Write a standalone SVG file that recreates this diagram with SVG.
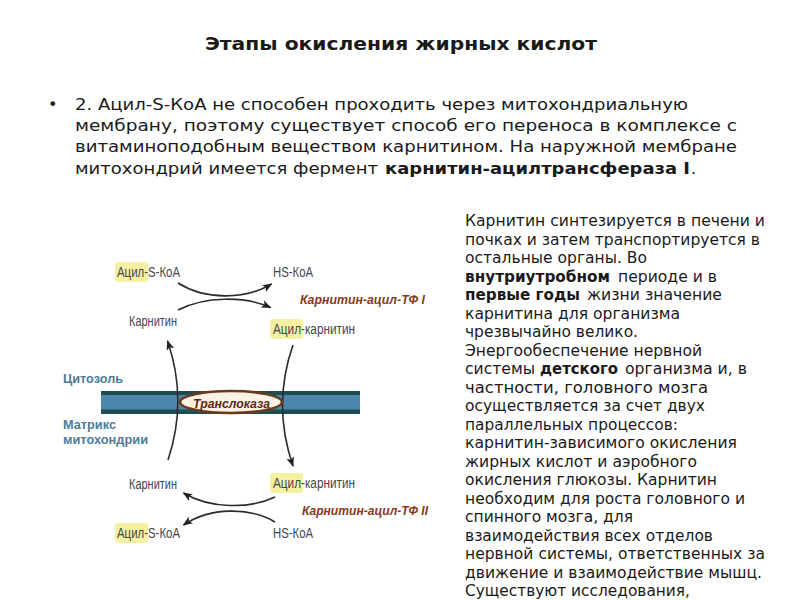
<svg xmlns="http://www.w3.org/2000/svg" width="800" height="600" viewBox="0 0 800 600">
<defs>
<marker id="ah" viewBox="0 0 10 8" refX="9" refY="4" markerWidth="10" markerHeight="8" markerUnits="userSpaceOnUse" orient="auto">
<path d="M0,0 L10,4 L0,8 L2.5,4 z" fill="#222"/>
</marker>
</defs>
<style>
.t{font-family:"DejaVu Sans","Liberation Sans",sans-serif;fill:#1a1a1a}
.b{font-weight:bold}
.p{font-size:16px}
.r{font-size:15px}
.lab{font-family:"Liberation Sans","DejaVu Sans",sans-serif;font-size:14px;fill:#45454f}
.enz{font-family:"Liberation Sans","DejaVu Sans",sans-serif;font-size:13px;font-weight:bold;font-style:italic;fill:#87391a}
.reg{font-family:"Liberation Sans","DejaVu Sans",sans-serif;font-size:13px;font-weight:bold;fill:#4f7c98}
.hl{fill:#f6f1a2}
.con{fill:none;stroke:#2b2b2b;stroke-width:1.6;marker-end:url(#ah)}
</style>
<rect width="800" height="600" fill="#ffffff"/>

<g id="title">
<text class="t b" x="205" y="50" font-size="17" textLength="392" lengthAdjust="spacingAndGlyphs">Этапы окисления жирных кислот</text>
</g>

<g id="bullet-text">
<text class="t p" x="48" y="110">•</text>
<text class="t p" x="75" y="110" textLength="613" lengthAdjust="spacingAndGlyphs">2. Ацил-S-КоА не способен проходить через митохондриальную</text>
<text class="t p" x="75" y="131" textLength="662" lengthAdjust="spacingAndGlyphs">мембрану, поэтому существует способ его переноса в комплексе с</text>
<text class="t p" x="75" y="152" textLength="662" lengthAdjust="spacingAndGlyphs">витаминоподобным веществом карнитином. На наружной мембране</text>
<text class="t p" x="75" y="174" textLength="303" lengthAdjust="spacingAndGlyphs">митохондрий имеется фермент</text>
<text class="t p b" x="385" y="174" textLength="305" lengthAdjust="spacingAndGlyphs">карнитин-ацилтрансфераза I</text>
<text class="t p" x="691" y="174">.</text>
</g>

<g id="side-text">
<text class="t r" x="465" y="226" textLength="300" lengthAdjust="spacingAndGlyphs">Карнитин синтезируется в печени и</text>
<text class="t r" x="465" y="244.5" textLength="295" lengthAdjust="spacingAndGlyphs">почках и затем транспортируется в</text>
<text class="t r" x="465" y="263" textLength="182" lengthAdjust="spacingAndGlyphs">остальные органы. Во</text>
<text class="t r b" x="465" y="281.5" textLength="145" lengthAdjust="spacingAndGlyphs">внутриутробном</text>
<text class="t r" x="618" y="281.5" textLength="99" lengthAdjust="spacingAndGlyphs">периоде и в</text>
<text class="t r b" x="465" y="300" textLength="115" lengthAdjust="spacingAndGlyphs">первые годы</text>
<text class="t r" x="587" y="300" textLength="135" lengthAdjust="spacingAndGlyphs">жизни значение</text>
<text class="t r" x="465" y="318.5" textLength="215" lengthAdjust="spacingAndGlyphs">карнитина для организма</text>
<text class="t r" x="465" y="337" textLength="173" lengthAdjust="spacingAndGlyphs">чрезвычайно велико.</text>
<text class="t r" x="465" y="355.5" textLength="237" lengthAdjust="spacingAndGlyphs">Энергообеспечение нервной</text>
<text class="t r" x="465" y="374" textLength="70" lengthAdjust="spacingAndGlyphs">системы</text>
<text class="t r b" x="540" y="374" textLength="78" lengthAdjust="spacingAndGlyphs">детского</text>
<text class="t r" x="625" y="374" textLength="122" lengthAdjust="spacingAndGlyphs">организма и, в</text>
<text class="t r" x="465" y="392.5" textLength="243" lengthAdjust="spacingAndGlyphs">частности, головного мозга</text>
<text class="t r" x="465" y="411" textLength="240" lengthAdjust="spacingAndGlyphs">осуществляется за счет двух</text>
<text class="t r" x="465" y="429.5" textLength="213" lengthAdjust="spacingAndGlyphs">параллельных процессов:</text>
<text class="t r" x="465" y="448" textLength="272" lengthAdjust="spacingAndGlyphs">карнитин-зависимого окисления</text>
<text class="t r" x="465" y="466.5" textLength="232" lengthAdjust="spacingAndGlyphs">жирных кислот и аэробного</text>
<text class="t r" x="465" y="485" textLength="252" lengthAdjust="spacingAndGlyphs">окисления глюкозы. Карнитин</text>
<text class="t r" x="465" y="503.5" textLength="280" lengthAdjust="spacingAndGlyphs">необходим для роста головного и</text>
<text class="t r" x="465" y="522" textLength="168" lengthAdjust="spacingAndGlyphs">спинного мозга, для</text>
<text class="t r" x="465" y="540.5" textLength="248" lengthAdjust="spacingAndGlyphs">взаимодействия всех отделов</text>
<text class="t r" x="465" y="559" textLength="300" lengthAdjust="spacingAndGlyphs">нервной системы, ответственных за</text>
<text class="t r" x="465" y="577.5" textLength="297" lengthAdjust="spacingAndGlyphs">движение и взаимодействие мышц.</text>
<text class="t r" x="465" y="596" textLength="225" lengthAdjust="spacingAndGlyphs">Существуют исследования,</text>
</g>

<g id="membrane">
<rect x="101" y="391" width="259" height="23" fill="#4c86ab"/>
<rect x="101" y="391" width="259" height="4" fill="#1d4d53"/>
<rect x="101" y="409.5" width="259" height="4.5" fill="#1d4d53"/>
</g>

<g id="regions">
<text class="reg" x="63" y="383" textLength="60" lengthAdjust="spacingAndGlyphs">Цитозоль</text>
<text class="reg" x="63" y="429" textLength="53" lengthAdjust="spacingAndGlyphs">Матрикс</text>
<text class="reg" x="63" y="443.5" textLength="85" lengthAdjust="spacingAndGlyphs">митохондрии</text>
</g>

<g id="connectors">
<path class="con" d="M168,460 Q188,400 167.5,341"/>
<path class="con" d="M293,345 Q272,405 293,466"/>
<path class="con" d="M178,283 C205,300 245,300 271.5,284"/>
<path class="con" d="M178,310 C205,296 245,296 270.5,307.5"/>
<path class="con" d="M275,497 C250,509 210,509 183.5,493"/>
<path class="con" d="M275,522 C250,507 210,507 183.5,525"/>
</g>

<g id="translocase">
<ellipse cx="231" cy="402" rx="51" ry="11" fill="#fcf2e4" stroke="#6a3a1f" stroke-width="2.5"/>
<text class="enz" x="193" y="407.5" textLength="77" lengthAdjust="spacingAndGlyphs" style="fill:#5a2a12">Транслоказа</text>
</g>

<g id="acyl-scoa-top">
<rect class="hl" x="115" y="262" width="33" height="20" rx="3"/>
<text class="lab" x="117" y="277" textLength="63" lengthAdjust="spacingAndGlyphs">Ацил-S-КоА</text>
</g>
<g id="hskoa-top">
<text class="lab" x="273" y="277" textLength="40" lengthAdjust="spacingAndGlyphs">HS-КоА</text>
</g>
<g id="cat1">
<text class="enz" x="300" y="304" textLength="125" lengthAdjust="spacingAndGlyphs">Карнитин-ацил-ТФ I</text>
</g>
<g id="carnitine-top">
<text class="lab" x="129" y="326" textLength="48" lengthAdjust="spacingAndGlyphs">Карнитин</text>
</g>
<g id="acylcarnitine-top">
<rect class="hl" x="270" y="319" width="33" height="20" rx="3"/>
<text class="lab" x="273" y="334" textLength="82" lengthAdjust="spacingAndGlyphs">Ацил-карнитин</text>
</g>
<g id="acylcarnitine-bottom">
<rect class="hl" x="270" y="473" width="33" height="20" rx="3"/>
<text class="lab" x="273" y="488" textLength="82" lengthAdjust="spacingAndGlyphs">Ацил-карнитин</text>
</g>
<g id="carnitine-bottom">
<text class="lab" x="129" y="489" textLength="48" lengthAdjust="spacingAndGlyphs">Карнитин</text>
</g>
<g id="cat2">
<text class="enz" x="302" y="515" textLength="126" lengthAdjust="spacingAndGlyphs">Карнитин-ацил-ТФ II</text>
</g>
<g id="acyl-scoa-bottom">
<rect class="hl" x="115" y="523" width="33" height="20" rx="3"/>
<text class="lab" x="117" y="538" textLength="63" lengthAdjust="spacingAndGlyphs">Ацил-S-КоА</text>
</g>
<g id="hskoa-bottom">
<text class="lab" x="273" y="538" textLength="40" lengthAdjust="spacingAndGlyphs">HS-КоА</text>
</g>
</svg>
